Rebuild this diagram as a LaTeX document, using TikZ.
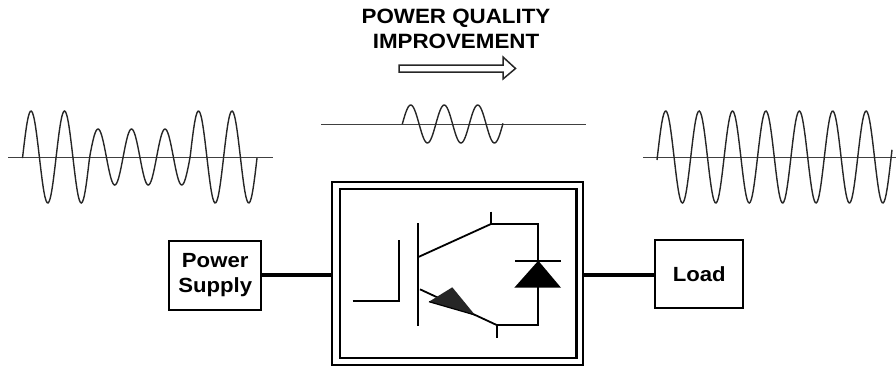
\documentclass[tikz,border=0pt]{standalone}
\usepackage{fontspec}
\setmainfont[FakeStretch=1.08]{Liberation Sans}
\tikzset{
  blockbox/.style={draw, line width=2pt, align=center, font=\fontsize{20.5}{25}\selectfont\bfseries, inner sep=0pt},
  wave/.style={line width=1.4pt, black!85},
  axisline/.style={line width=1pt, black!75},
  wire/.style={line width=1.8pt},
  mainlink/.style={line width=4pt}
}
\begin{document}
\begin{tikzpicture}[x=1pt, y=-1pt]
  \useasboundingbox (0,0) rectangle (896,370);
  %% Heading and hollow arrow
  \node[font=\fontsize{20.7}{25.5}\selectfont\bfseries, align=center, inner sep=0pt] (title) at (456,29) {POWER QUALITY\\IMPROVEMENT};
  \draw[line width=1.5pt, black!85] (399,65) -- (503,65) -- (503,57) -- (515.5,68.5) -- (503,79) -- (503,72) -- (399,72) -- cycle;
  %% Waveforms
  \draw[axisline] (8,157) -- (273,157);
  \draw[wave] plot[domain=22.5:257, samples=240, smooth] (\x, {157-((\x<89.6||\x>189.9)?46:28)*cos(10.746*(\x-31))});
  \draw[axisline] (321,124) -- (586,124);
  \draw[wave] plot[domain=402.3:503, samples=100, smooth] (\x, {124-19*cos(10.746*(\x-410.7))});
  \draw[axisline] (643,157) -- (896,157);
  \draw[wave] plot[domain=657:892, samples=240, smooth] (\x, {157-46*cos(10.778*(\x-665.7))});
  %% Blocks
  \node[blockbox, minimum width=91.7, minimum height=68.7] (supply) at (215.2,275.3) {Power\\Supply};
  \node[blockbox, minimum width=88, minimum height=68.3] (load) at (699.3,274.2) {Load};
  \node[draw, line width=1.8pt, minimum width=250.5, minimum height=182.5, inner sep=0pt] (converter) at (457.5,273.5) {};
  \node[draw, line width=2.4pt, minimum width=236.5, minimum height=168.5, inner sep=0pt] (inner) at (458.3,273.5) {};
  \coordinate (convleft) at (converter.west |- supply.east);
  \coordinate (loadport) at (load.west |- supply.east);
  \coordinate (convright) at (converter.east |- supply.east);
  \draw[mainlink] (supply.east) -- (convleft);
  \draw[mainlink] (convright) -- (loadport);
  %% IGBT and diode
  \draw[wire] (352.7,300.7) -- (399.3,300.7) -- (399.3,240);
  \draw[wire] (417.7,223.3) -- (417.7,325.7);
  \draw[wire] (417.7,257.3) -- (491,224);
  \draw[wire] (491,211.7) -- (491,224) -- (538.3,224) -- (538.3,325.3) -- (497.3,325.3) -- (497.3,338.3);
  \draw[wire] (420,289.3) -- (497.3,325.3);
  \fill[black!85] (429,301.7) -- (452.3,287.3) -- (475,315) -- cycle;
  \draw[line width=1.2pt] (429,301.7) -- (475,315);
  \draw[wire] (515,260.7) -- (561,260.7);
  \fill (538.3,260.7) -- (561,287.7) -- (514.3,287.7) -- cycle;
\end{tikzpicture}
\end{document}
